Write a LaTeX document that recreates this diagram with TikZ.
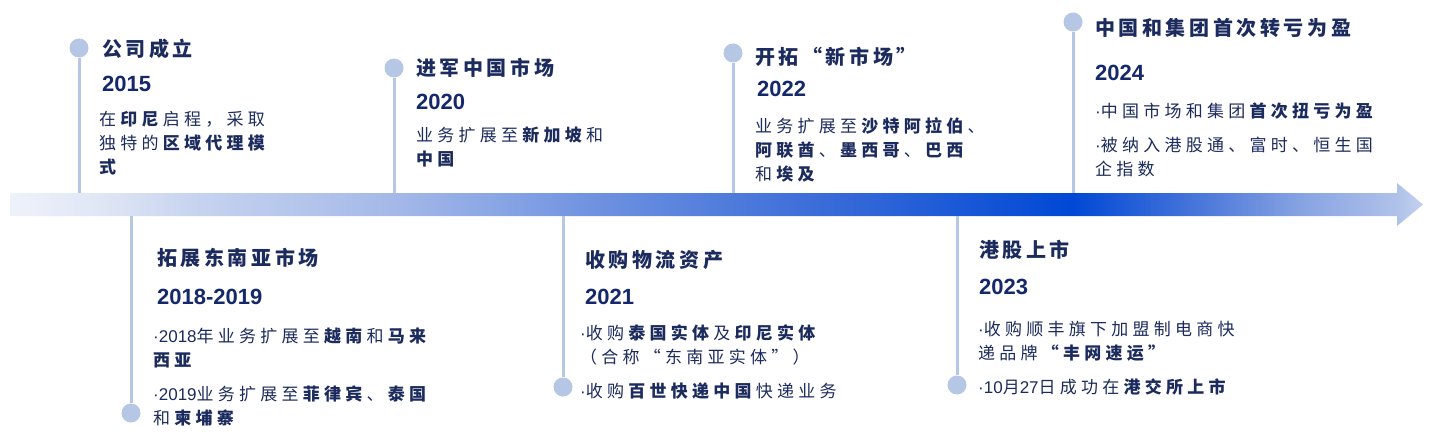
\documentclass[tikz,border=0pt]{standalone}
\usepackage{fontspec}
\setmainfont{Liberation Sans}
\newfontfamily\cjktitle[LetterSpace=18]{Noto Sans CJK SC}
\newfontfamily\cjkbody[LetterSpace=25]{Noto Sans CJK SC}
\usepackage{xcolor}
\usepackage{tikz}
\definecolor{navy}{HTML}{1C2B5E}
\definecolor{yearblue}{HTML}{14286B}
\definecolor{stemblue}{HTML}{B6C7E6}
\definecolor{bar0}{HTML}{EEF2FA}
\definecolor{bar1}{HTML}{DFE6F5}
\definecolor{bar2}{HTML}{C6D3EF}
\definecolor{bar3}{HTML}{A3B8E8}
\definecolor{bar4}{HTML}{6D91E0}
\definecolor{bar5}{HTML}{3F6FD9}
\definecolor{bar6}{HTML}{0048D5}
\definecolor{bar7}{HTML}{4A77DA}
\definecolor{bar8}{HTML}{86A2E2}
\definecolor{bar9}{HTML}{B0C2EA}
\definecolor{bar10}{HTML}{C4D2F0}
\pgfdeclarehorizontalshading{timebar}{100bp}{color(0bp)=(bar0); color(25bp)=(bar0);
  color(28.2bp)=(bar1); color(31.7bp)=(bar2); color(38.8bp)=(bar3);
  color(45.9bp)=(bar4); color(53bp)=(bar5); color(62.6bp)=(bar6);
  color(67.1bp)=(bar7); color(70.6bp)=(bar8); color(74.1bp)=(bar9);
  color(75bp)=(bar10); color(100bp)=(bar10)}
\newcommand{\bul}{{\rmfamily\mdseries ·}}
\newcommand{\num}[1]{{\rmfamily #1}}

\begin{document}
\begin{tikzpicture}[x=1pt, y=-1pt,
    dotmark/.style={circle, fill=stemblue, inner sep=0pt, minimum size=19pt},
    stemline/.style={draw=stemblue, line width=3pt},
    evtitle/.style={anchor=west, inner sep=0pt, text=navy,
                    font=\cjktitle\bfseries\fontsize{20}{24}\selectfont},
    evyear/.style={anchor=west, inner sep=0pt, text=yearblue,
                   font=\bfseries\fontsize{22}{26}\selectfont},
    evbody/.style={anchor=north west, inner sep=0pt, text=navy, align=left,
                   font=\cjkbody\fontsize{17}{24}\selectfont},
]
\useasboundingbox[fill=white] (0,0) rectangle (1439,433);

\coordinate (bandtop) at (0,193);
\coordinate (bandbot) at (0,216);
\shade[shading=timebar] (10,193) -- (1397,193) -- (1397,183) -- (1423,204.5)
    -- (1397,226) -- (1397,216) -- (10,216) -- cycle;

\node[dotmark] (dot2015) at (79,48) {};
\node[dotmark] (dot2020) at (394,68) {};
\node[dotmark] (dot2022) at (733,53) {};
\node[dotmark] (dot2024) at (1073,22) {};
\node[dotmark] (dot1819) at (131,413) {};
\node[dotmark] (dot2021) at (563,387) {};
\node[dotmark] (dot2023) at (957,385) {};

\draw[stemline] (dot2015) -- (dot2015 |- bandtop);
\draw[stemline] (dot2020) -- (dot2020 |- bandtop);
\draw[stemline] (dot2022) -- (dot2022 |- bandtop);
\draw[stemline] (dot2024) -- (dot2024 |- bandtop);
\draw[stemline] (dot1819) -- (dot1819 |- bandbot);
\draw[stemline] (dot2021) -- (dot2021 |- bandbot);
\draw[stemline] (dot2023) -- (dot2023 |- bandbot);

\node[evtitle] (title2015) at (102,49) {公司成立};
\node[evyear] (year2015) at (102,84) {2015};
\node[evbody] (body2015) at (99,111.5) {在\textbf{印尼}启程，采取\\独特的\textbf{区域代理模}\\\textbf{式}};

\node[evtitle] (title2020) at (416,68) {进军中国市场};
\node[evyear] (year2020) at (416,102) {2020};
\node[evbody] (body2020) at (416,126.5) {业务扩展至\textbf{新加坡}和\\\textbf{中国}};

\node[evtitle] (title2022) at (755,57) {开拓“新市场”};
\node[evyear] (year2022) at (757,89) {2022};
\node[evbody] (body2022) at (755,117.5) {业务扩展至\textbf{沙特阿拉伯}、\\\textbf{阿联酋}、\textbf{墨西哥}、\textbf{巴西}\\和\textbf{埃及}};

\node[evtitle] (title2024) at (1095,28) {中国和集团首次转亏为盈};
\node[evyear] (year2024) at (1095,73) {2024};
\node[evbody] (body2024) at (1095,102.5) {\bul 中国市场和集团\textbf{首次扭亏为盈}\\[10pt]\bul 被纳入港股通、富时、恒生国\\企指数};

\node[evtitle] (title1819) at (157,258) {拓展东南亚市场};
\node[evyear] (year1819) at (157,297) {2018-2019};
\node[evbody] (body1819) at (153,327.5) {\bul\num{2018}年业务扩展至\textbf{越南}和\textbf{马来}\\\textbf{西亚}\\[10pt]\bul\num{2019}业务扩展至\textbf{菲律宾}、\textbf{泰国}\\和\textbf{柬埔寨}};

\node[evtitle] (title2021) at (585,260) {收购物流资产};
\node[evyear] (year2021) at (585,297) {2021};
\node[evbody] (body2021) at (580,324.5) {\bul 收购\textbf{泰国实体}及\textbf{印尼实体}\\（合称“东南亚实体”）\\[10pt]\bul 收购\textbf{百世快递中国}快递业务};

\node[evtitle] (title2023) at (979,250) {港股上市};
\node[evyear] (year2023) at (979,287) {2023};
\node[evbody] (body2023) at (978,320.5) {\bul 收购顺丰旗下加盟制电商快\\递品牌\textbf{“丰网速运”}\\[10pt]\bul\num{10}月\num{27}日成功在\textbf{港交所上市}};

\end{tikzpicture}
\end{document}
